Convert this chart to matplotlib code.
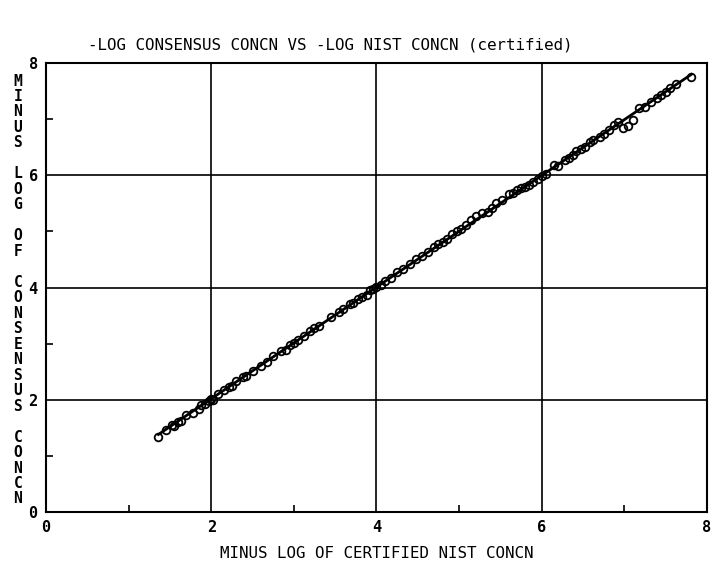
import numpy as np
import matplotlib
matplotlib.use("Agg")
import matplotlib.pyplot as plt

# certified NIST -log concentration vs consensus -log concentration
nist_x = [1.36, 1.45, 1.52, 1.55, 1.6, 1.63, 1.7, 1.78, 1.85, 1.88,
          1.92, 1.97, 2.0, 2.02, 2.08, 2.15, 2.22, 2.25, 2.3, 2.38,
          2.42, 2.5, 2.6, 2.68, 2.75, 2.85, 2.9, 2.95, 3.0, 3.05,
          3.12, 3.2, 3.25, 3.3, 3.45, 3.55, 3.6, 3.68, 3.72, 3.78,
          3.82, 3.88, 3.92, 3.96, 4.0, 4.05, 4.1, 4.18, 4.25, 4.32,
          4.4, 4.48, 4.55, 4.62, 4.7, 4.75, 4.8, 4.85, 4.92, 4.98,
          5.02, 5.08, 5.15, 5.2, 5.28, 5.35, 5.4, 5.45, 5.52, 5.6,
          5.65, 5.7, 5.75, 5.8, 5.85, 5.9, 5.95, 6.0, 6.05, 6.15,
          6.2, 6.28, 6.33, 6.38, 6.42, 6.48, 6.52, 6.58, 6.62, 6.7,
          6.75, 6.82, 6.88, 6.92, 6.98, 7.05, 7.1, 7.18, 7.25, 7.32,
          7.4, 7.45, 7.5, 7.55, 7.62, 7.81]
consensus_y = [1.34, 1.46, 1.55, 1.53, 1.61, 1.62, 1.72, 1.77, 1.84, 1.9,
               1.93, 1.98, 2.01, 2.0, 2.1, 2.17, 2.23, 2.24, 2.33, 2.4,
               2.43, 2.52, 2.61, 2.67, 2.78, 2.86, 2.88, 2.97, 3.02, 3.06,
               3.14, 3.22, 3.28, 3.31, 3.47, 3.57, 3.62, 3.7, 3.73, 3.8,
               3.84, 3.86, 3.95, 3.97, 4.01, 4.04, 4.12, 4.17, 4.28, 4.33,
               4.42, 4.5, 4.56, 4.64, 4.72, 4.78, 4.81, 4.86, 4.95, 5.0,
               5.04, 5.12, 5.2, 5.27, 5.33, 5.35, 5.42, 5.5, 5.56, 5.66,
               5.69, 5.73, 5.77, 5.8, 5.83, 5.88, 5.93, 5.98, 6.02, 6.18,
               6.17, 6.27, 6.3, 6.36, 6.44, 6.47, 6.5, 6.6, 6.63, 6.68,
               6.74, 6.8, 6.9, 6.95, 6.85, 6.88, 6.98, 7.2, 7.22, 7.3,
               7.38, 7.43, 7.48, 7.55, 7.63, 7.75]

major_ticks = [0, 2, 4, 6, 8]
minor_ticks = [1, 3, 5, 7]
tick_labels = ["0", "2", "4", "6", "8"]

title = "-LOG CONSENSUS CONCN VS -LOG NIST CONCN (certified)"
xlabel = "MINUS LOG OF CERTIFIED NIST CONCN"
ylabel = "MINUS LOG OF CONSENSUS CONCN"

plt.rcParams["font.family"] = ["DejaVu Sans Mono"]

fig = plt.figure(figsize=(7.13, 5.63), dpi=100)
ax = fig.add_axes([0.0645, 0.0906, 0.927, 0.7974])

# regression line through the points
x = np.array(nist_x)
y = np.array(consensus_y)
slope, icpt = np.polyfit(x, y, 1)
xs = np.array([x.min(), x.max()])
ax.plot(xs, slope * xs + icpt, color="black", linewidth=2.0, zorder=3)
ax.plot(x, y, linestyle="none", marker="o", markersize=5.5,
        markerfacecolor="none", markeredgecolor="black", markeredgewidth=1.3, zorder=4)

ax.set_xlim(0, 8)
ax.set_ylim(0, 8)
ax.set_xticks(major_ticks)
ax.set_yticks(major_ticks)
ax.set_xticklabels(tick_labels, fontsize=11, fontweight="bold")
ax.set_yticklabels(tick_labels, fontsize=11, fontweight="bold")
ax.set_xticks(minor_ticks, minor=True)
ax.set_yticks(minor_ticks, minor=True)
ax.tick_params(which="major", length=0, pad=6)
ax.tick_params(which="minor", direction="in", length=5, width=1.2)
ax.grid(True, which="major", color="black", linewidth=1.2)
for s in ax.spines.values():
    s.set_linewidth(1.5)

fig.text(88 / 713, 1 - 45 / 563, title, fontsize=11.4, ha="left", va="center")
ax.set_xlabel(xlabel, fontsize=11.4, labelpad=8)
fig.text(18 / 713, 1 - 290 / 563, "\n".join(ylabel), fontsize=10.5, fontweight="bold",
         ha="center", va="center", linespacing=1.04)

plt.savefig("out.png", dpi=100)
